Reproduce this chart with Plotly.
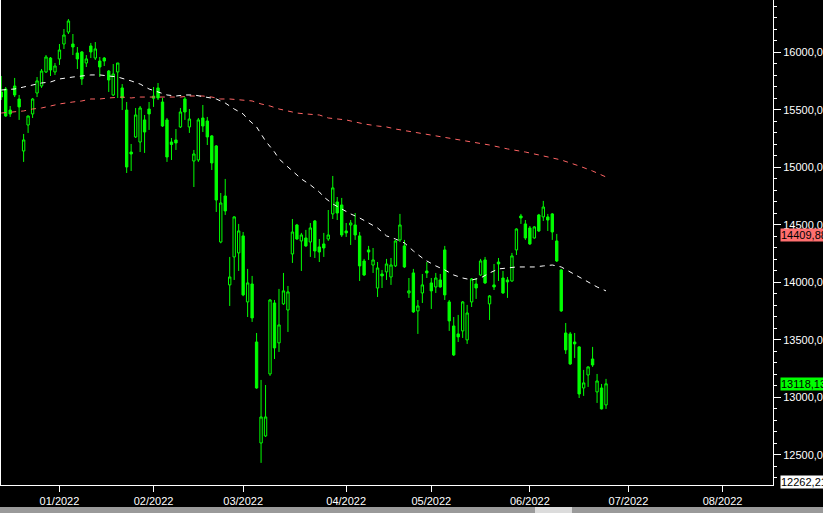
import pandas as pd
import plotly.graph_objects as go

# ---------------- data ----------------
holidays = ["2021-12-24", "2021-12-31", "2022-04-15", "2022-04-18"]
days = [d.strftime("%Y-%m-%d") for d in pd.bdate_range("2021-12-13", "2022-08-19")
        if d.strftime("%Y-%m-%d") not in holidays]

# daily candles, first one = 2021-12-13, last one = 2022-06-24
opens = [15655, 15681, 15498, 15707, 15594, 15142, 15368, 15464, 15646, 15707, 15829, 15950, 15829,
         15942, 16072, 16176, 16072, 15994, 16003, 15907, 16055, 15950, 15924, 15950, 15837, 15629,
         15829, 15690, 15498, 15133, 15264, 15220, 15412, 15507,
         15600, 15690, 15568, 15412, 15220, 15238, 15351, 15594, 15351, 15055, 15064, 15429, 15403,
         15273, 15186, 14351, 14751, 13978, 14221, 14256,
         14404, 13830, 13986, 13482, 12604, 12665, 13204, 13821, 13474, 13813, 13760, 14247, 14499,
         14360, 14386, 14351, 14534, 14308, 14334, 14377, 14595, 14699, 14673,
         14447, 14499, 14499, 14404, 14186, 14282, 14151, 13951, 14073, 14091, 14047, 14143, 14369,
         14317, 13908, 14082, 13752, 13908, 14099,
         13995, 13960, 14021, 14282, 13830, 13621, 13552, 13578, 13500, 13830, 13986, 14064, 14195,
         13813, 13978, 14177, 14038, 14021, 14012, 14282, 14577, 14508,
         14473, 14386, 14586, 14569, 14569, 14595, 14360, 14108, 13560, 13552, 13482, 13439, 13082,
         13195, 13334, 13048, 13082, 12935]
highs = [15794, 15698, 15533, 15777, 15629, 15290, 15450, 15603, 15785, 15855, 15976, 15959, 15907,
         16072, 16202, 16289, 16159, 16046, 16011, 15976, 16081, 16089, 15959, 15959, 15846, 15898,
         15907, 15724, 15568, 15203, 15516, 15533, 15455, 15568,
         15698, 15733, 15603, 15429, 15255, 15333, 15516, 15611, 15507, 15151, 15429, 15542, 15438,
         15281, 15194, 14777, 14899, 14221, 14575, 14508,
         14438, 14117, 14056, 13560, 13152, 13108, 13855, 13847, 13943, 14082, 13969, 14551, 14508,
         14430, 14456, 14516, 14542, 14377, 14430, 14629, 14925, 14742, 14734,
         14516, 14542, 14603, 14438, 14204, 14317, 14299, 14177, 14108, 14204, 14212, 14365, 14595,
         14369, 14038, 14117, 13847, 14073, 14177,
         14038, 14082, 14073, 14317, 13847, 13699, 13717, 13838, 13804, 14038, 14038, 14204, 14221,
         13890, 14160, 14212, 14099, 14047, 14256, 14470, 14595, 14542,
         14490, 14490, 14595, 14708, 14595, 14603, 14421, 14117, 13647, 13569, 13560, 13445, 13239,
         13270, 13439, 13204, 13117, 13161]
lows = [15585, 15438, 15438, 15611, 15412, 15047, 15299, 15429, 15611, 15690, 15820, 15794, 15803,
        15890, 16029, 16159, 15976, 15855, 15716, 15872, 15950, 15933, 15785, 15881, 15655, 15620,
        15603, 15498, 14951, 14968, 15255, 15133, 15125, 15325,
        15525, 15585, 15351, 15047, 15064, 15151, 15342, 15412, 15299, 14829, 15047, 15307, 15194,
        14977, 14612, 14340, 14586, 13795, 14021, 14099,
        13880, 13699, 13656, 13075, 12431, 12657, 13187, 13334, 13395, 13804, 13569, 14169, 14369,
        14099, 14308, 14221, 14212, 14177, 14221, 14360, 14551, 14542, 14395,
        14395, 14325, 14369, 14012, 14056, 14195, 14082, 13873, 13951, 14021, 13978, 14134, 14351,
        14125, 13865, 13735, 13552, 13821, 14038,
        13769, 13908, 13955, 13847, 13578, 13360, 13482, 13517, 13465, 13786, 13856, 14056, 13986,
        13673, 13934, 14012, 13900, 13865, 14005, 14238, 14508, 14369,
        14325, 14380, 14438, 14534, 14447, 14369, 14177, 13743, 13378, 13282, 13343, 12995, 13013,
        13091, 13265, 12952, 12895, 12900]
closes = [15611, 15446, 15464, 15629, 15525, 15238, 15446, 15594, 15751, 15837, 15959, 15846, 15881,
          16020, 16150, 16272, 16046, 15942, 15768, 15942, 16003, 16029, 15872, 15924, 15759, 15811,
          15907, 15603, 15003, 15116, 15455, 15516, 15307, 15464,
          15619, 15603, 15359, 15090, 15199, 15212, 15481, 15481, 15420, 15116, 15412, 15359, 15264,
          15038, 14716, 14690, 14621, 14047, 14569, 14447,
          13891, 13995, 13691, 13082, 12830, 12830, 13847, 13430, 13630, 13926, 13917, 14438, 14377,
          14412, 14317, 14473, 14273, 14264, 14299, 14412, 14821, 14603, 14412,
          14430, 14516, 14412, 14143, 14064, 14264, 14195, 14125, 14056, 14160, 14151, 14360, 14499,
          14134, 13926, 13743, 13795, 13978, 14082,
          13926, 14038, 13960, 13891, 13665, 13369, 13526, 13830, 13734, 14030, 13951, 14186, 13995,
          13882, 13960, 14160, 13908, 14004, 14230, 14464, 14560, 14386,
          14334, 14482, 14447, 14655, 14542, 14438, 14186, 13752, 13413, 13291, 13465, 13030, 13126,
          13265, 13282, 13143, 12900, 13118.13]

# moving averages
ma_fast_dates = ["2021-12-13", "2021-12-16", "2021-12-20", "2021-12-22", "2021-12-27", "2021-12-29",
                 "2022-01-03", "2022-01-06", "2022-01-10", "2022-01-12", "2022-01-14", "2022-01-18",
                 "2022-01-20", "2022-01-25", "2022-01-27", "2022-01-31", "2022-02-02", "2022-02-04",
                 "2022-02-08", "2022-02-10", "2022-02-14", "2022-02-17", "2022-02-21", "2022-02-23",
                 "2022-02-25", "2022-03-01", "2022-03-02", "2022-03-04", "2022-03-07", "2022-03-08",
                 "2022-03-10", "2022-03-11", "2022-03-15", "2022-03-16", "2022-03-18", "2022-03-22",
                 "2022-03-24", "2022-03-25", "2022-03-29", "2022-03-31", "2022-04-04", "2022-04-06",
                 "2022-04-08", "2022-04-12", "2022-04-14", "2022-04-20", "2022-04-22", "2022-04-26",
                 "2022-04-28", "2022-04-29", "2022-05-03", "2022-05-05", "2022-05-09", "2022-05-11",
                 "2022-05-13", "2022-05-17", "2022-05-19", "2022-05-23", "2022-05-25", "2022-05-27",
                 "2022-05-31", "2022-06-02", "2022-06-06", "2022-06-08", "2022-06-10", "2022-06-14",
                 "2022-06-16", "2022-06-20", "2022-06-22", "2022-06-24"]
ma_fast_vals = [15672, 15681, 15698, 15716, 15733, 15742, 15768, 15785, 15794, 15803, 15803, 15794,
                15785, 15751, 15724, 15681, 15655, 15629, 15620, 15629, 15629, 15611, 15594, 15559,
                15507, 15464, 15420, 15351, 15290, 15229, 15133, 15073, 15003, 14968, 14899, 14847,
                14786, 14742, 14682, 14638, 14595, 14560, 14516, 14473, 14404, 14377, 14343, 14273,
                14212, 14186, 14143, 14108, 14064, 14038, 14021, 14038, 14082, 14117, 14125, 14134,
                14134, 14134, 14143, 14151, 14134, 14091, 14047, 14004, 13960, 13926]
ma_slow_dates = ["2021-12-13", "2021-12-16", "2021-12-20", "2021-12-22", "2021-12-27", "2021-12-29",
                 "2022-01-03", "2022-01-06", "2022-01-10", "2022-01-12", "2022-01-14", "2022-01-18",
                 "2022-01-21", "2022-01-25", "2022-01-27", "2022-01-31", "2022-02-03", "2022-02-07",
                 "2022-02-09", "2022-02-11", "2022-02-16", "2022-02-18", "2022-02-22", "2022-02-24",
                 "2022-03-01", "2022-03-03", "2022-03-07", "2022-03-09", "2022-03-11", "2022-03-15",
                 "2022-03-17", "2022-03-21", "2022-03-24", "2022-03-28", "2022-03-30", "2022-04-01",
                 "2022-04-05", "2022-04-07", "2022-04-12", "2022-04-14", "2022-04-20", "2022-04-27",
                 "2022-05-03", "2022-05-09", "2022-05-13", "2022-05-19", "2022-05-25", "2022-05-31",
                 "2022-06-06", "2022-06-10", "2022-06-16", "2022-06-21", "2022-06-24"]
ma_slow_vals = [15472, 15481, 15490, 15507, 15516, 15533, 15551, 15568, 15577, 15594, 15594, 15603,
                15611, 15603, 15611, 15611, 15611, 15611, 15611, 15620, 15620, 15611, 15594, 15594,
                15585, 15577, 15551, 15533, 15507, 15490, 15472, 15464, 15455, 15429, 15420, 15412,
                15394, 15377, 15359, 15351, 15333, 15299, 15273, 15246, 15220, 15194, 15160, 15133,
                15099, 15064, 15012, 14968, 14916]

label_vals = [14409.88, 13118.13, 12262.21]
label_colors = ["#ff6f6f", "#00ff00", "#ffffff"]

month_labels = ["01/2022", "02/2022", "03/2022", "04/2022", "05/2022", "06/2022", "07/2022", "08/2022"]

# ---------------- figure ----------------
GREEN = "#00ff00"
FONT = "Liberation Sans, Arial, sans-serif"
pos = {d: i for i, d in enumerate(days)}
candle_x = list(range(len(opens)))

month_first = []
for lab in month_labels:
    mm, yy = lab.split("/")
    month_first.append(next(i for i, d in enumerate(days) if d.startswith(f"{yy}-{mm}")))

fig = go.Figure()
fig.add_trace(go.Candlestick(
    x=candle_x, open=opens, high=highs, low=lows, close=closes,
    increasing=dict(line=dict(color=GREEN, width=1), fillcolor="black"),
    decreasing=dict(line=dict(color=GREEN, width=1), fillcolor=GREEN),
    whiskerwidth=0, showlegend=False, hoverinfo="skip"))
fig.add_trace(go.Scatter(
    x=[pos[d] for d in ma_slow_dates], y=ma_slow_vals, mode="lines",
    line=dict(color="#ff6464", width=1, dash="5px,5px"), showlegend=False, hoverinfo="skip"))
fig.add_trace(go.Scatter(
    x=[pos[d] for d in ma_fast_dates], y=ma_fast_vals, mode="lines",
    line=dict(color="white", width=1, dash="5px,5px"), showlegend=False, hoverinfo="skip"))

fig.update_layout(
    template="none", width=823, height=513,
    margin=dict(l=1, r=50, t=0, b=28),
    paper_bgcolor="black", plot_bgcolor="black",
    separators=",.", showlegend=False, hovermode=False,
    font=dict(family=FONT, size=11, color="white"),
    boxgap=0.25,
)
fig.update_xaxes(
    range=[-0.05, 172.27], tickmode="array", tickvals=month_first, ticktext=month_labels,
    ticks="outside", ticklen=6, tickcolor="white", tickwidth=1,
    showline=True, linecolor="white", linewidth=1, mirror=False,
    showgrid=False, zeroline=False, automargin=False,
    rangeslider=dict(visible=False),
    tickfont=dict(size=11, color="white", family=FONT),
)
fig.update_yaxes(
    side="right", range=[12238.7, 16454.5], tick0=0, dtick=500, tickformat=".2f",
    ticks="outside", ticklen=7, tickcolor="white", tickwidth=1,
    showline=True, linecolor="white", linewidth=1, mirror=True,
    showgrid=False, zeroline=False, automargin=False,
    tickfont=dict(size=11, color="white", family=FONT),
    minor=dict(tick0=0, dtick=100, ticks="outside", ticklen=3, tickcolor="white", showgrid=False),
)

for val, col in zip(label_vals, label_colors):
    fig.add_annotation(
        x=1, xref="paper", xanchor="left", xshift=7, y=val, yref="y", yanchor="middle",
        text=f"{val:.2f}".replace(".", ","), showarrow=False, bgcolor=col,
        font=dict(color="black", size=11, family=FONT),
        borderpad=0)

# scrollbar strip under the axis
fig.add_shape(type="rect", xref="paper", yref="paper", x0=-0.01, x1=1.07,
              y0=-0.06, y1=-0.0454, fillcolor="#9a9a9a", line_width=0, layer="above")
fig.add_shape(type="rect", xref="paper", yref="paper", x0=0.6917, x1=0.7396,
              y0=-0.06, y1=-0.0454, fillcolor="#dcdcdc", line_width=0, layer="above")

fig.write_html("out.html", config={"displayModeBar": False, "staticPlot": True},
               post_script="document.body.style.margin='0';document.body.style.overflow='hidden';")
